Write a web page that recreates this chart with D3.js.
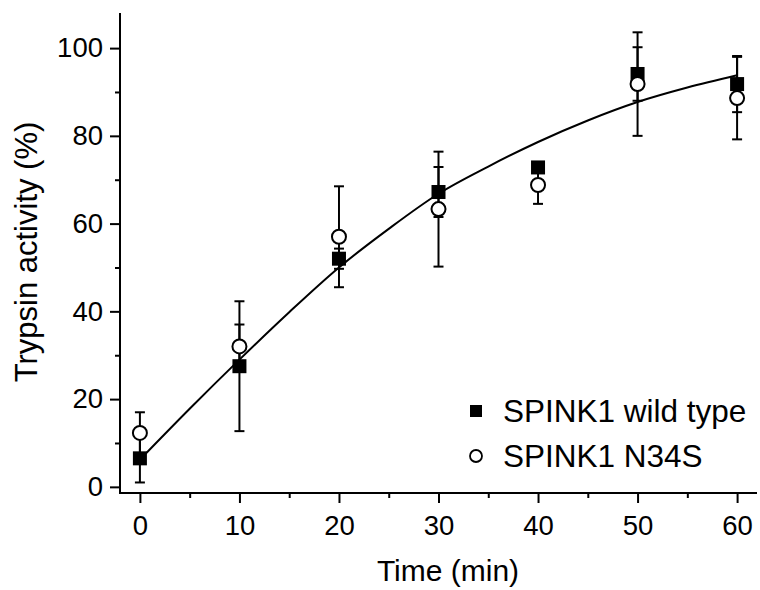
<!DOCTYPE html>
<html>
<head>
<meta charset="utf-8">
<script src="https://cdn.jsdelivr.net/npm/d3@7"></script>
<style>
  body { margin: 0; background: #fff; }
  svg { display: block; font-family: "Liberation Sans", Arial, sans-serif; }
</style>
</head>
<body>
<svg width="760" height="590"></svg>
<script>
// time points (min)
var times = [0, 10, 20, 30, 40, 50, 60];

// SPINK1 wild type (filled squares)
var wtMean = [6.5, 27.5, 52, 67.2, 72.8, 94.1, 91.8];
var wtErr  = [5.5, 14.8, 2.3, 5.7, 1.0, 6.1, 6.4];

// SPINK1 N34S (open circles)
var mutMean = [12.3, 32, 57, 63.3, 68.8, 91.8, 88.6];
var mutErr  = [4.7, 5, 11.5, 13.1, 4.3, 11.8, 9.4];

// fitted curve
var fitT = [0, 5, 10, 15, 20, 25, 30, 35, 40, 45, 50, 55, 60];
var fitY = [6.2, 17.8, 29, 39.8, 50, 58.8, 66.8, 73, 78.6, 83.5, 87.7, 91, 93.8];

var xTicks = [0, 10, 20, 30, 40, 50, 60];
var xMinor = [5, 15, 25, 35, 45, 55];
var yTicks = [0, 20, 40, 60, 80, 100];
var yMinor = [10, 30, 50, 70, 90];

var legendLabels = ["SPINK1 wild type", "SPINK1 N34S"];

var svg = d3.select("svg");

var x = d3.scaleLinear().domain([-2, 62]).range([120, 757]);
var y = d3.scaleLinear().domain([-1.4, 108]).range([493, 13]);

// axes
var xAxis = svg.append("g").attr("transform", "translate(0," + y(-1.4) + ")")
    .call(d3.axisBottom(x).tickValues(xTicks).tickSize(10).tickPadding(12).tickSizeOuter(0));
var xAxisMinor = svg.append("g").attr("transform", "translate(0," + y(-1.4) + ")")
    .call(d3.axisBottom(x).tickValues(xMinor).tickSize(5).tickFormat("").tickSizeOuter(0));
var yAxis = svg.append("g").attr("transform", "translate(" + x(-2) + ",0)")
    .call(d3.axisLeft(y).tickValues(yTicks).tickSize(10).tickPadding(7).tickSizeOuter(0));
var yAxisMinor = svg.append("g").attr("transform", "translate(" + x(-2) + ",0)")
    .call(d3.axisLeft(y).tickValues(yMinor).tickSize(5).tickFormat("").tickSizeOuter(0));

[xAxis, xAxisMinor, yAxis, yAxisMinor].forEach(function(g) {
  g.selectAll("path, line").attr("stroke", "#000").attr("stroke-width", 2);
  g.selectAll("text").attr("fill", "#000").style("font-size", "27.5px")
    .style("font-family", "'Liberation Sans', Arial, sans-serif");
});
xAxisMinor.select("path").remove();
yAxisMinor.select("path").remove();
// extend axis lines so they meet at the corner
xAxis.select("path").attr("d", "M" + (x(-2) - 1) + ",0H" + x(62));
yAxis.select("path").attr("d", "M0," + (y(-1.4) + 1) + "V" + y(108));

// axis titles
svg.append("text")
    .attr("x", 448).attr("y", 581)
    .attr("text-anchor", "middle")
    .style("font-size", "30px")
    .text("Time (min)");

svg.append("text")
    .attr("transform", "translate(37," + 252 + ") rotate(-90)")
    .attr("text-anchor", "middle")
    .style("font-size", "31px")
    .text("Trypsin activity (%)");

// fitted curve
var line = d3.line()
    .x(function(d, i) { return x(fitT[i]); })
    .y(function(d) { return y(d); })
    .curve(d3.curveMonotoneX);

svg.append("path")
    .datum(fitY)
    .attr("d", line)
    .attr("fill", "none")
    .attr("stroke", "#000")
    .attr("stroke-width", 2);

// error bars
function errorBars(means, errs) {
  var g = svg.append("g").attr("stroke", "#000").attr("stroke-width", 2);
  times.forEach(function(t, i) {
    var cx = x(t), lo = y(means[i] - errs[i]), hi = y(means[i] + errs[i]);
    g.append("line").attr("x1", cx).attr("x2", cx).attr("y1", lo).attr("y2", hi);
    g.append("line").attr("x1", cx - 5).attr("x2", cx + 5).attr("y1", lo).attr("y2", lo);
    g.append("line").attr("x1", cx - 5).attr("x2", cx + 5).attr("y1", hi).attr("y2", hi);
  });
}
errorBars(wtMean, wtErr);
errorBars(mutMean, mutErr);

// points
svg.append("g").selectAll("rect")
    .data(wtMean)
    .enter().append("rect")
    .attr("x", function(d, i) { return x(times[i]) - 7; })
    .attr("y", function(d) { return y(d) - 7; })
    .attr("width", 14).attr("height", 14)
    .attr("fill", "#000");

svg.append("g").selectAll("circle")
    .data(mutMean)
    .enter().append("circle")
    .attr("cx", function(d, i) { return x(times[i]); })
    .attr("cy", function(d) { return y(d); })
    .attr("r", 7)
    .attr("fill", "#fff")
    .attr("stroke", "#000")
    .attr("stroke-width", 2);

// legend
var legend = svg.append("g");
legend.append("rect").attr("x", 470).attr("y", 405).attr("width", 12).attr("height", 12).attr("fill", "#000");
legend.append("circle").attr("cx", 476).attr("cy", 456).attr("r", 6).attr("fill", "#fff")
    .attr("stroke", "#000").attr("stroke-width", 1.8);
legend.selectAll("text")
    .data(legendLabels)
    .enter().append("text")
    .attr("x", 503)
    .attr("y", function(d, i) { return 422 + i * 45; })
    .style("font-size", "31.5px")
    .text(function(d) { return d; });
</script>
</body>
</html>
